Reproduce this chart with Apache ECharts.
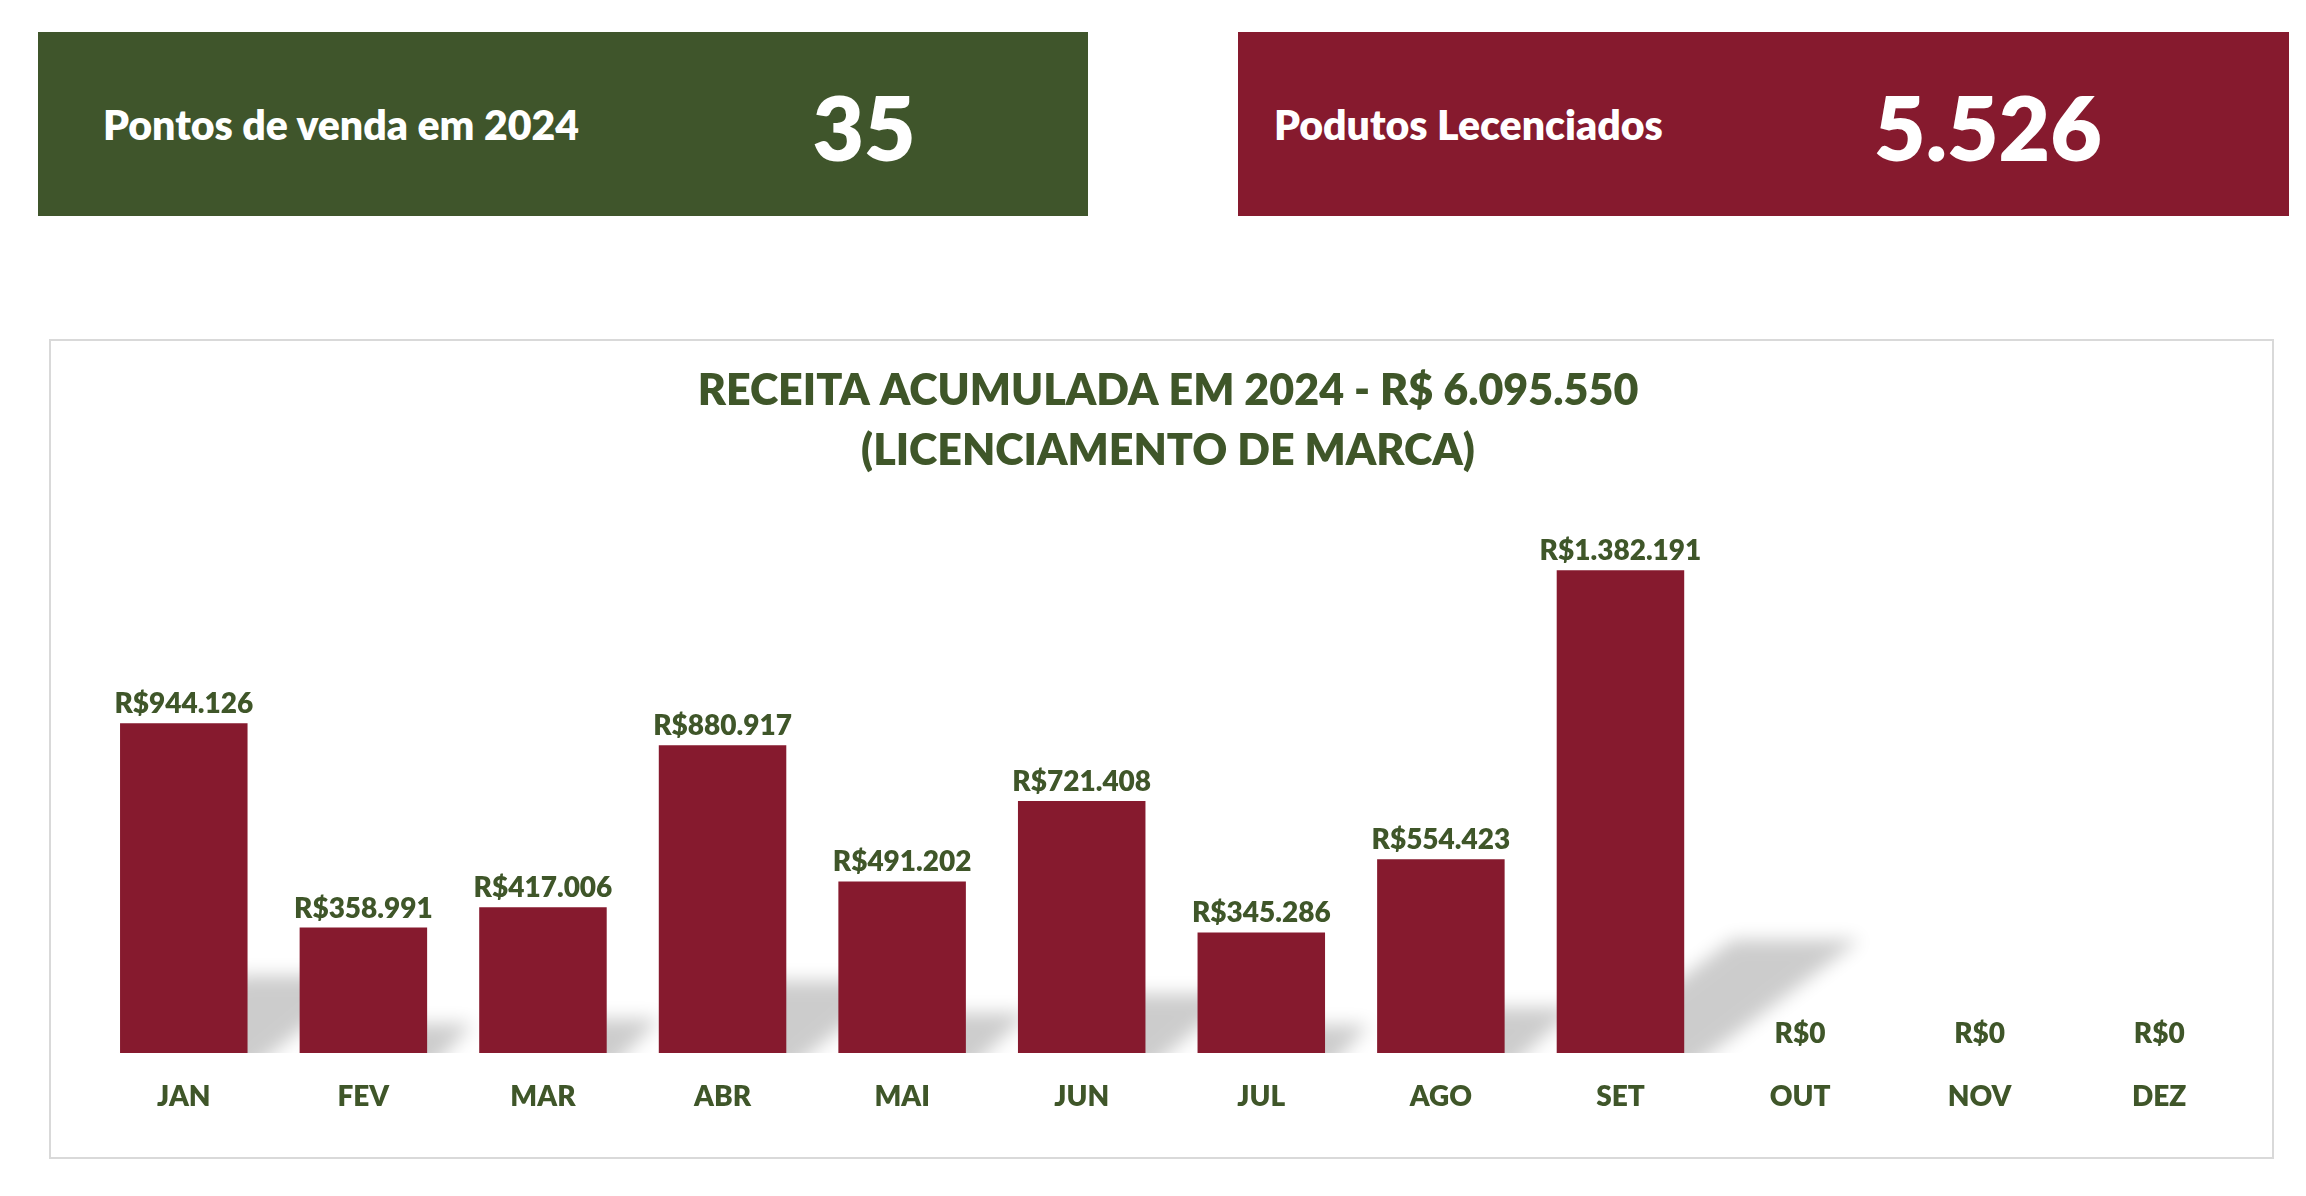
<!DOCTYPE html>
<html lang="pt-BR">
<head>
    <meta charset="UTF-8">
    <title>Receita acumulada 2024</title>
    <script src="https://cdn.jsdelivr.net/npm/echarts@6/dist/echarts.min.js"></script>
    <style>
        html, body {margin: 0; padding: 0; background: #fff;}
        body {width: 2306px; height: 1196px; position: relative; overflow: hidden; font-family: Lato, "Open Sans", sans-serif;}
        #main {position: absolute; left: 0; top: 0; width: 2306px; height: 1196px;}
        .kpi {position: absolute; top: 32px; height: 184px; color: #fff; font-weight: 800;}
        .kpi .lbl {position: absolute; font-size: 41px; line-height: 41px; top: 72px; white-space: nowrap;}
        .kpi .num {position: absolute; font-size: 89px; line-height: 89px; top: 50px; white-space: nowrap; text-align: center; width: 300px;}
        .green {left: 38px; width: 1050px; background: #3f552b;}
        .red {left: 1238px; width: 1051px; background: #861a2e;}
    </style>
</head>
<body>
    <div id="main"></div>
    <div class="kpi green">
        <div class="lbl" style="left:65px">Pontos de venda em 2024</div>
        <div class="num" style="left:676px">35</div>
    </div>
    <div class="kpi red">
        <div class="lbl" style="left:36px">Podutos Lecenciados</div>
        <div class="num" style="left:600px">5.526</div>
    </div>
<script type="text/javascript">
    // dados
    var months = ['JAN', 'FEV', 'MAR', 'ABR', 'MAI', 'JUN', 'JUL', 'AGO', 'SET', 'OUT', 'NOV', 'DEZ'];
    var receita = [944126, 358991, 417006, 880917, 491202, 721408, 345286, 554423, 1382191, 0, 0, 0];
    var titleLines = ['RECEITA ACUMULADA EM 2024 - R$ 6.095.550', '(LICENCIAMENTO DE MARCA)'];

    var green = '#3f5629';
    var wine = '#861a2e';
    var heavy = 800;

    function brl(v) {
        return 'R$' + String(v).replace(/\B(?=(\d{3})+(?!\d))/g, '.');
    }

    var shadowData = [];
    for (var i = 0; i < months.length; i++) {
        shadowData.push([i, receita[i]]);
    }

    var myChart = echarts.init(document.getElementById('main'));
    var off = 4000; // desenha o poligono fora da tela e usa so a sombra borrada
    var option = {
        animation: false,
        graphic: [{
            type: 'rect',
            shape: {x: 50, y: 340, width: 2223, height: 818},
            style: {fill: '#fff', stroke: '#d9d9d9', lineWidth: 2},
            z: -10
        }],
        title: {
            text: titleLines.join('\n'),
            left: 1163,
            top: 356,
            textAlign: 'center',
            textStyle: {
                color: green,
                fontFamily: 'Lato',
                fontWeight: heavy,
                fontSize: 43,
                lineHeight: 60
            }
        },
        grid: {left: 94, right: 57, bottom: 143, top: 529},
        xAxis: {
            type: 'category',
            data: months,
            axisLine: {show: false},
            axisTick: {show: false},
            axisLabel: {
                color: green,
                fontFamily: 'Lato',
                fontWeight: heavy,
                fontSize: 28,
                margin: 30
            }
        },
        yAxis: {
            type: 'value',
            min: 0,
            max: 1500000,
            show: false,
            splitLine: {show: false}
        },
        series: [{
            // sombra em perspectiva
            type: 'custom',
            clip: true,
            z: 1,
            silent: true,
            data: shadowData,
            renderItem: function (params, api) {
                var v = api.value(1);
                if (!v) return;
                var base = api.coord([api.value(0), 0]);
                var top = api.coord([api.value(0), v]);
                var bw = api.size([1, 0])[0] * 0.71;
                var h = (base[1] - top[1]) * 0.235;
                var dx = h * 1.55;
                var x0 = base[0] - bw / 2 + off, x1 = base[0] + bw / 2 + off, y0 = base[1];
                return {
                    type: 'polygon',
                    shape: {points: [[x0, y0 + 20], [x1, y0 + 20], [x1 + dx, y0 - h], [x0 + dx, y0 - h]]},
                    style: {
                        fill: '#000',
                        shadowBlur: 18,
                        shadowColor: 'rgba(0,0,0,0.2)',
                        shadowOffsetX: -off,
                        shadowOffsetY: 0
                    }
                };
            }
        }, {
            type: 'bar',
            z: 2,
            data: receita,
            barCategoryGap: '29%',
            itemStyle: {color: wine},
            label: {
                show: true,
                position: 'top',
                distance: 5,
                color: green,
                fontFamily: 'Lato',
                fontWeight: heavy,
                fontSize: 28,
                formatter: function (p) { return brl(p.value); }
            }
        }]
    };
    myChart.setOption(option);
</script>
</body>
</html>
